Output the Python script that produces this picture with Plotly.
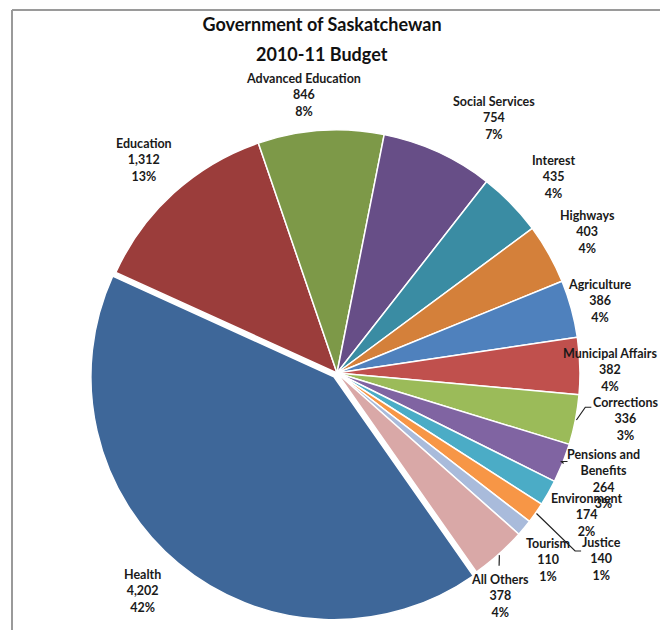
import math
import plotly.graph_objects as go

categories = ["Health", "Education", "Advanced Education", "Social Services", "Interest",
              "Highways", "Agriculture", "Municipal Affairs", "Corrections",
              "Pensions and Benefits", "Environment", "Justice", "Tourism", "All Others"]
values = [4202, 1312, 846, 754, 435, 403, 386, 382, 336, 264, 174, 140, 110, 378]
label_text = ["Health", "Education", "Advanced Education", "Social Services", "Interest",
              "Highways", "Agriculture", "Municipal Affairs", "Corrections",
              "Pensions and<br>Benefits", "Environment", "Justice", "Tourism", "All Others"]
colors = ["#3E6799", "#9B3D3B", "#7D9948", "#674E87", "#3A8CA3", "#D4803A",
          "#4F81BD", "#C0504D", "#9BBB59", "#8064A2", "#4BACC6", "#F79646",
          "#A9BBDB", "#D9A8A7"]

W, H = 668, 630
OFF = 8                             # page offset of the figure inside the window


def px(x):
    return (x - OFF) / W


def py(y):
    return 1 - (y - OFF) / H


cx, cy, R = 337, 373, 243          # pie centre / radius (window pixels)
PULL = 0.02
ROT = 145                           # start angle of first slice (deg clockwise from 12 o'clock)
LABEL_DIST = 287
# (angle shift deg, distance px) nudges for label placement
nudge = {"Health": (2, 292), "Advanced Education": (-3, 280), "Social Services": (7, 300),
         "Interest": (2, 292), "Agriculture": (0, 272), "Municipal Affairs": (1, 273),
         "Corrections": (-2, 292), "Justice": (0, 323), "Tourism": (2, 282),
         "All Others": (5.5, 276)}
leaders = {"Corrections": (-40, -12), "Pensions and Benefits": (-42, -18),
           "Justice": (-26, -8), "All Others": (-1, -30)}

half = R * (1 + PULL)
fig = go.Figure(go.Pie(
    labels=categories,
    values=values,
    sort=False,
    direction="clockwise",
    rotation=ROT,
    pull=[PULL] + [0] * (len(values) - 1),
    marker=dict(colors=colors, line=dict(color="white", width=1.5)),
    textinfo="none",
    automargin=False,
    showlegend=False,
    hoverinfo="label+value+percent",
    domain=dict(x=[px(cx - half), px(cx + half)], y=[py(cy + half), py(cy - half)]),
))

total = sum(values)
annotations = []
shapes = []
acc = 0
for name, txt, v in zip(categories, label_text, values):
    mid = ROT + (acc + v / 2) / total * 360
    acc += v
    da, dist = nudge.get(name, (0, LABEL_DIST))
    a = math.radians(mid + da)
    lx = cx + dist * math.sin(a)
    ly = cy - dist * math.cos(a)
    pct = round(v / total * 100)
    annotations.append(dict(
        x=px(lx), y=py(ly), xref="paper", yref="paper",
        text=f"<b>{txt}<br>{v:,}<br>{pct}%</b>", showarrow=False,
        xanchor="center", yanchor="middle", align="center",
        font=dict(family="Lato", size=12.5, color="#1a1a1a")))
    if name in leaders:
        am = math.radians(mid)
        ex, ey = cx + (R + 1) * math.sin(am), cy - (R + 1) * math.cos(am)
        ox, oy = leaders[name]
        tx, ty = lx + ox, ly + oy
        tail = 6 if ox < -5 else 0
        shapes.append(dict(type="path", xref="paper", yref="paper",
                           path=f"M {px(ex)},{py(ey)} L {px(tx)},{py(ty)} L {px(tx + tail)},{py(ty)}",
                           line=dict(color="#222222", width=1.2)))

annotations.append(dict(x=px(322), y=py(54), xref="paper", yref="paper",
                        text="<b>2010-11 Budget</b>", showarrow=False,
                        xanchor="center", yanchor="middle",
                        font=dict(family="Lato", size=18, color="#111111")))

shapes += [
    dict(type="line", xref="paper", yref="paper", x0=px(12), x1=px(12), y0=0, y1=py(10),
         line=dict(color="#9a9a9a", width=2)),
    dict(type="line", xref="paper", yref="paper", x0=px(12), x1=px(662), y0=py(10), y1=py(10),
         line=dict(color="#9a9a9a", width=2)),
    dict(type="line", xref="paper", yref="paper", x0=px(662), x1=px(662), y0=0, y1=py(10),
         line=dict(color="#e4e4e4", width=2)),
]

fig.update_layout(
    width=W, height=H,
    margin=dict(l=0, r=0, t=0, b=0, autoexpand=False),
    paper_bgcolor="white",
    title=dict(text="<b>Government of Saskatchewan</b>",
               x=px(322), xanchor="center", y=py(25), yanchor="middle",
               font=dict(family="Lato", size=18, color="#111111")),
    annotations=annotations,
    shapes=shapes,
)

fig.write_html("out.html", config={"displayModeBar": False})
